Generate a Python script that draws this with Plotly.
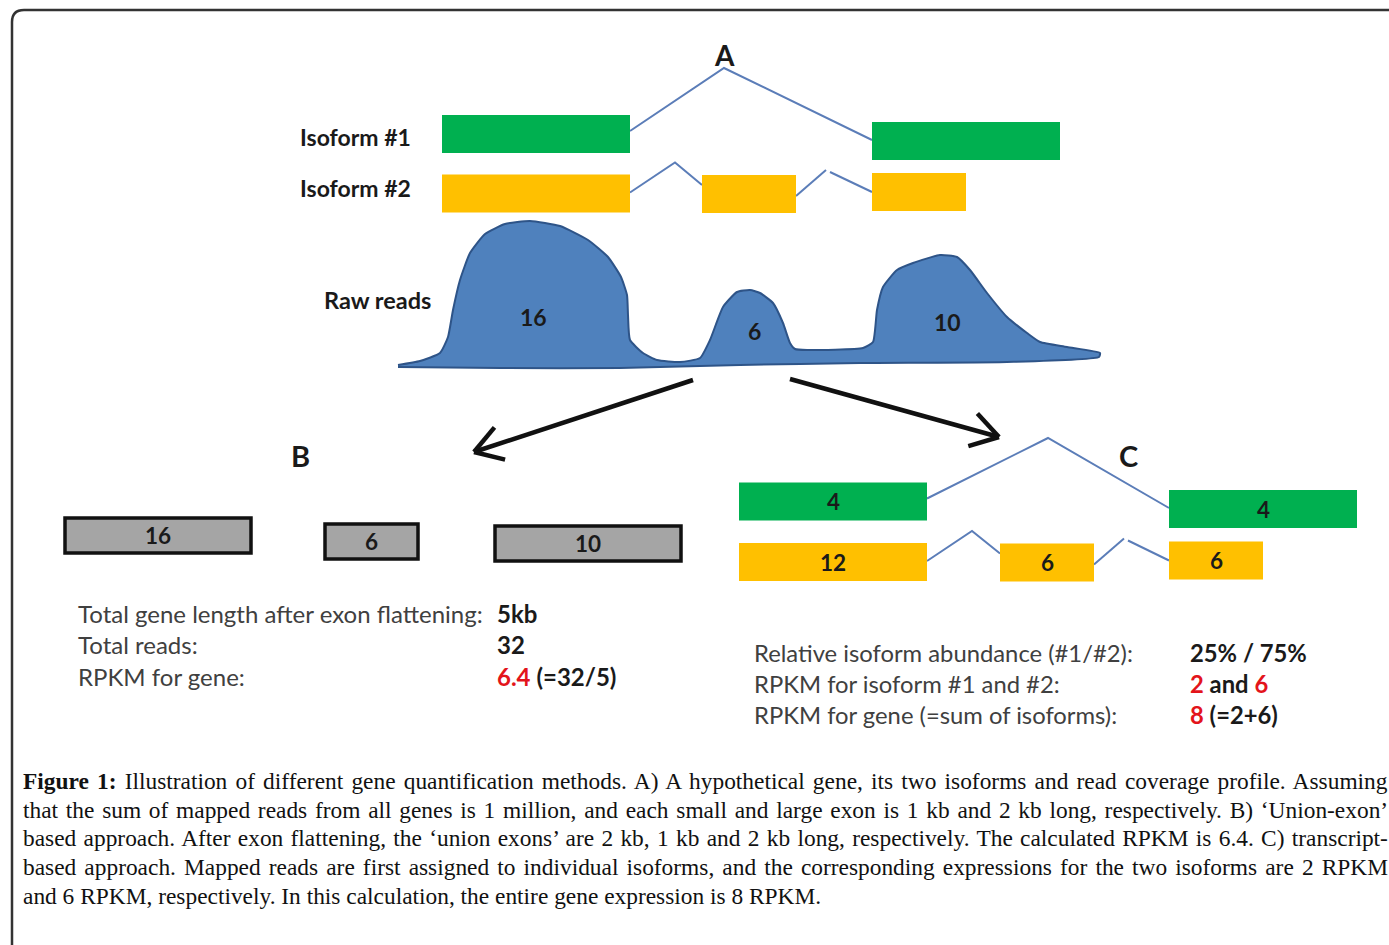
import numpy as np
import plotly.graph_objects as go

# ---------------- data ----------------
raw_reads = [16, 6, 10]                 # reads per exon region (coverage profile)
union_exon_kb = [2, 1, 2]               # union exon lengths after flattening (B)
iso1_exon_kb = [2, 2]                   # isoform #1 exons
iso2_exon_kb = [2, 1, 1]                # isoform #2 exons
iso1_reads = [4, 4]                     # reads assigned to isoform #1 exons (C)
iso2_reads = [12, 6, 6]                 # reads assigned to isoform #2 exons (C)
isoform_labels = ["Isoform #1", "Isoform #2"]

b_labels = ["Total gene length after exon flattening:", "Total reads:", "RPKM for gene:"]
b_values = ["<b>5kb</b>", "<b>32</b>",
            "<b><span style='color:#E3141B'>6.4</span> (=32/5)</b>"]
c_labels = ["Relative isoform abundance (#1/#2):", "RPKM for isoform #1 and #2:",
            "RPKM for gene (=sum of isoforms):"]
c_values = ["<b>25% / 75%</b>",
            "<b><span style='color:#E3141B'>2</span> and <span style='color:#E3141B'>6</span></b>",
            "<b><span style='color:#E3141B'>8</span> (=2+6)</b>"]

caption_lines = [
    "<b>Figure 1:</b> Illustration of different gene quantification methods. A) A hypothetical gene, its two isoforms and read coverage profile. Assuming",
    "that the sum of mapped reads from all genes is 1 million, and each small and large exon is 1 kb and 2 kb long, respectively. B) \u2018Union-exon\u2019",
    "based approach. After exon flattening, the \u2018union exons\u2019 are 2 kb, 1 kb and 2 kb long, respectively. The calculated RPKM is 6.4. C) transcript-",
    "based approach. Mapped reads are first assigned to individual isoforms, and the corresponding expressions for the two isoforms are 2 RPKM",
    "and 6 RPKM, respectively. In this calculation, the entire gene expression is 8 RPKM.",
]

# ---------------- styles / geometry ----------------
W, H = 1389, 945
GREEN = "#00B050"
YELLOW = "#FFC000"
GRAY = "#A5A5A5"
INTRON = "#5B7DB8"
COV_FILL = "#4F81BD"
COV_LINE = "#2E5488"
SANS = "Lato"
SERIF = "Liberation Serif"
PX_PER_KB = 94
EXON_H = 38
CAPTION_SIZE = 23.4
CAPTION_EXTRA = [44, 51, 35, 45, 0]     # extra px per line for justification

fig = go.Figure()
shapes = []
annotations = []


def add_text(x, y, text, size=20, color="#1a1a1a", family=SANS, xanchor="center", bold=False):
    annotations.append(dict(
        x=x, y=y, xref="x", yref="y", text=f"<b>{text}</b>" if bold else text,
        showarrow=False, xanchor=xanchor, yanchor="middle",
        font=dict(family=family, size=size, color=color)))


def add_exon(x0, kb, yc, color, label=None, h=EXON_H, border=None, scale=PX_PER_KB, lsize=22.5):
    x1 = x0 + kb * scale
    shapes.append(dict(type="rect", xref="x", yref="y", x0=x0, x1=x1,
                       y0=yc - h / 2, y1=yc + h / 2, fillcolor=color,
                       line=dict(color=border or color, width=3.5 if border else 0),
                       layer="above"))
    if label is not None:
        add_text((x0 + x1) / 2, yc, str(label), size=lsize, bold=True)
    return x1


def add_polyline(xs, ys, color=INTRON, width=2):
    fig.add_trace(go.Scatter(x=xs, y=ys, mode="lines", line=dict(color=color, width=width),
                             hoverinfo="skip", showlegend=False))


def draw_gene(iso1_x0, iso1_yc, iso2_x0, iso2_yc, peak, iso1_lab=None, iso2_lab=None):
    ends1 = [add_exon(x, kb, y, GREEN, None if iso1_lab is None else iso1_lab[i])
             for i, (x, kb, y) in enumerate(zip(iso1_x0, iso1_exon_kb, iso1_yc))]
    ends2 = [add_exon(x, kb, y, YELLOW, None if iso2_lab is None else iso2_lab[i])
             for i, (x, kb, y) in enumerate(zip(iso2_x0, iso2_exon_kb, iso2_yc))]
    add_polyline([ends1[0], peak[0], iso1_x0[1]],
                 [iso1_yc[0] - 3, peak[1], iso1_yc[1] - 1])
    add_polyline([ends2[0], ends2[0] + 45, iso2_x0[1]],
                 [iso2_yc[0] - 1, iso2_yc[0] - 31, iso2_yc[1] - 9])
    add_polyline([ends2[1], ends2[1] + 30], [iso2_yc[1] + 2, iso2_yc[1] - 24])
    add_polyline([ends2[1] + 34, iso2_x0[2]], [iso2_yc[1] - 22, iso2_yc[2] - 0])


# ---------------- panel A ----------------
add_text(724, 55, "A", size=28, bold=True)
add_text(413, 137, isoform_labels[0], size=23, xanchor="right", bold=True)
add_text(413, 188, isoform_labels[1], size=23, xanchor="right", bold=True)
draw_gene([442, 872], [134, 141], [442, 702, 872], [193.5, 194, 192], (724, 68))

cov_x = [398, 420, 440, 448, 453, 460, 470, 485, 505, 530, 560, 588, 608, 621, 627, 628, 630,
         643, 657, 680, 700, 710, 723, 737, 750, 760, 773, 783, 790, 795, 807, 863, 873,
         877, 883, 897, 913, 940, 957, 970, 987, 1007, 1027, 1040, 1067, 1100,
         1099, 1007, 860, 740, 620, 500, 398]
cov_y = [365, 361, 353, 337, 310, 280, 253, 234, 224, 221, 226, 240, 257, 277, 295, 315, 340,
         353, 360, 362, 358, 340, 307, 292, 290, 293, 303, 323, 343, 349, 350, 348, 342,
         310, 287, 270, 263, 255, 257, 270, 293, 317, 333, 342, 347, 353,
         357, 362, 363, 365, 368, 368, 367]
fig.add_trace(go.Scatter(x=cov_x, y=cov_y, mode="lines", fill="toself",
                         fillcolor=COV_FILL, line=dict(color=COV_LINE, width=2,
                                                      shape="spline", smoothing=0.5),
                         hoverinfo="skip", showlegend=False))
add_text(433, 300, "Raw reads", size=23.5, xanchor="right", bold=True)
for (x, y), v in zip([(533, 317), (754, 331), (947, 322)], raw_reads):
    add_text(x, y, str(v), size=23, bold=True)


# ---------------- arrows ----------------
def arrow(x0, y0, x1, y1, head=32, ang=32):
    add_polyline([x0, x1], [y0, y1], color="#111111", width=4.5)
    d = np.array([x0 - x1, y0 - y1], dtype=float)
    d /= np.linalg.norm(d)
    for s in (-1, 1):
        a = np.deg2rad(ang * s)
        r = np.array([[np.cos(a), -np.sin(a)], [np.sin(a), np.cos(a)]]) @ d
        add_polyline([x1 + r[0] * head, x1], [y1 + r[1] * head, y1], color="#111111", width=4.5)


arrow(693, 380, 474, 452)
arrow(790, 379, 999, 437)

# ---------------- panel B ----------------
add_text(300, 455, "B", size=29, bold=True)
for x0, kb, yc, v in zip([65, 325, 495], union_exon_kb, [535.5, 541.5, 543.5], raw_reads):
    add_exon(x0, kb, yc, GRAY, v, h=35, border="#111111", scale=93)
for i, (lab, val) in enumerate(zip(b_labels, b_values)):
    y = 613 + i * 31.5
    add_text(76, y, lab, size=24, color="#404040", xanchor="left")
    add_text(495, y, val, size=24, color="#1a1a1a", xanchor="left")

# ---------------- panel C ----------------
add_text(1128, 455, "C", size=29, bold=True)
draw_gene([739, 1169], [501.5, 509], [739, 1000, 1169], [562, 562.5, 560.5], (1048, 438),
          iso1_lab=iso1_reads, iso2_lab=iso2_reads)
for i, (lab, val) in enumerate(zip(c_labels, c_values)):
    y = 653 + i * 31
    add_text(752, y, lab, size=23.8, color="#404040", xanchor="left")
    add_text(1188, y, val, size=23.8, color="#1a1a1a", xanchor="left")

# ---------------- caption ----------------
for i, (line, extra) in enumerate(zip(caption_lines, CAPTION_EXTRA)):
    n_sp = line.replace("<b>", "").replace("</b>", "").count(" ")
    ws = extra / n_sp
    txt = f"<span style='word-spacing:{ws:.2f}px'>{line}</span>" if extra else line
    add_text(21, 781 + i * 28.7, txt, size=CAPTION_SIZE, color="#111111", family=SERIF,
             xanchor="left")

# ---------------- frame ----------------
shapes.append(dict(type="path", xref="x", yref="y",
                   path="M 12,945 L 12,22 Q 12,10 24,10 L 1389,10",
                   line=dict(color="#333333", width=2.5)))

fig.update_layout(
    width=W, height=H, margin=dict(l=0, r=0, t=0, b=0),
    paper_bgcolor="white", plot_bgcolor="white",
    xaxis=dict(range=[0, W], visible=False, fixedrange=True),
    yaxis=dict(range=[H, 0], visible=False, fixedrange=True),
    shapes=shapes, annotations=annotations, showlegend=False,
)
fig.write_html("out.html", config={"displayModeBar": False},
               post_script="document.body.style.margin='0';document.body.style.overflow='hidden';")
